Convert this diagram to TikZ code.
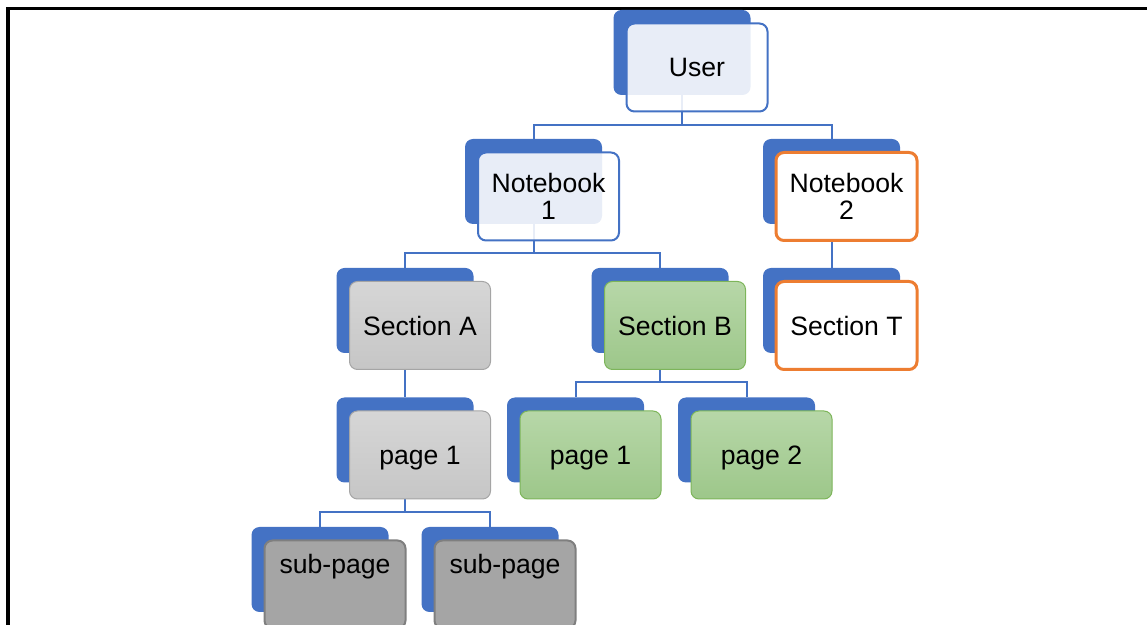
\documentclass[tikz,border=0pt]{standalone}
\usepackage{fontspec}
\setmainfont{Liberation Sans}
\usetikzlibrary{positioning}

\definecolor{nodeblue}{HTML}{4472C4}
\definecolor{nodeorange}{HTML}{ED7D31}
\definecolor{grayline}{HTML}{A5A5A5}
\definecolor{graytop}{HTML}{D6D6D6}
\definecolor{graybot}{HTML}{C6C6C6}
\definecolor{greenline}{HTML}{7DB55A}
\definecolor{greentop}{HTML}{B7D7A8}
\definecolor{greenbot}{HTML}{9DC78A}
\definecolor{subfill}{HTML}{A5A5A5}
\definecolor{subline}{HTML}{7F7F7F}

\begin{document}
\begin{tikzpicture}[
  x=0.5pt, y=-0.5pt,
  every node/.style={font=\fontsize{13.3}{13.8}\selectfont},
  back/.style={fill=nodeblue, rounded corners=4pt, inner sep=0pt,
    minimum width=68.5pt, minimum height=42.5pt},
  front/.style={rounded corners=4pt, inner sep=0pt, align=center,
    text depth=0pt, minimum width=70.5pt, minimum height=44pt},
  bluebox/.style={front, draw=nodeblue, line width=1pt, fill=white,
    fill opacity=0.88, text opacity=1},
  orangebox/.style={front, draw=nodeorange, line width=1.5pt, fill=white},
  graybox/.style={front, draw=grayline, line width=0.5pt,
    top color=graytop, bottom color=graybot},
  greenbox/.style={front, draw=greenline, line width=0.5pt,
    top color=greentop, bottom color=greenbot},
  subbox/.style={front, draw=subline, line width=1pt, fill=subfill},
  conn/.style={draw=nodeblue, line width=1pt},
]
\useasboundingbox (0,0) rectangle (1147,625);

% frame
\draw[line width=1.75pt] (8,625) -- (8,8.7) -- (1147,8.7);

% back boxes
\node[back] (userB) at (682,52.5) {};
\node[back] (nb1B) at (533.5,181.5) {};
\node[back] (nb2B) at (831.5,181.5) {};
\node[back] (secAB) at (405,310.5) {};
\node[back] (secBB) at (660,310.5) {};
\node[back] (secTB) at (831.5,310.5) {};
\node[back] (pgAB) at (405,440) {};
\node[back] (pg1B) at (575.5,440) {};
\node[back] (pg2B) at (746.5,440) {};
\node[back] (sub1B) at (320,569.5) {};
\node[back] (sub2B) at (490,569.5) {};

% connectors
\draw[conn] (userB.south) -- ++(0,30) -| (nb1B.north);
\draw[conn] (userB.south) -- ++(0,30) -| (nb2B.north);
\draw[conn] (nb1B.south) -- ++(0,29) -| (secAB.north);
\draw[conn] (nb1B.south) -- ++(0,29) -| (secBB.north);
\draw[conn] (nb2B.south) -- (secTB.north);
\draw[conn] (secAB.south) -- (pgAB.north);
\draw[conn] (secBB.south) -- ++(0,29) -| (pg1B.north);
\draw[conn] (secBB.south) -- ++(0,29) -| (pg2B.north);
\draw[conn] (pgAB.south) -- ++(0,29) -| (sub1B.north);
\draw[conn] (pgAB.south) -- ++(0,29) -| (sub2B.north);

% front boxes
\node[bluebox] (user) at ([shift={(15,15)}]userB) {User};
\node[bluebox] (nb1) at ([shift={(15,15)}]nb1B) {Notebook\\1};
\node[orangebox] (nb2) at ([shift={(15,15)}]nb2B) {Notebook\\2};
\node[graybox] (secA) at ([shift={(15,15)}]secAB) {Section A};
\node[greenbox] (secB) at ([shift={(15,15)}]secBB) {Section B};
\node[orangebox] (secT) at ([shift={(15,15)}]secTB) {Section T};
\node[graybox] (pgA) at ([shift={(15,15)}]pgAB) {page 1};
\node[greenbox] (pg1) at ([shift={(15,15)}]pg1B) {page 1};
\node[greenbox] (pg2) at ([shift={(15,15)}]pg2B) {page 2};
\node[subbox, label={[yshift=9pt]center:sub-page}] (sub1)
  at ([shift={(15,15)}]sub1B) {};
\node[subbox, label={[yshift=9pt]center:sub-page}] (sub2)
  at ([shift={(15,15)}]sub2B) {};

\end{tikzpicture}
\end{document}
